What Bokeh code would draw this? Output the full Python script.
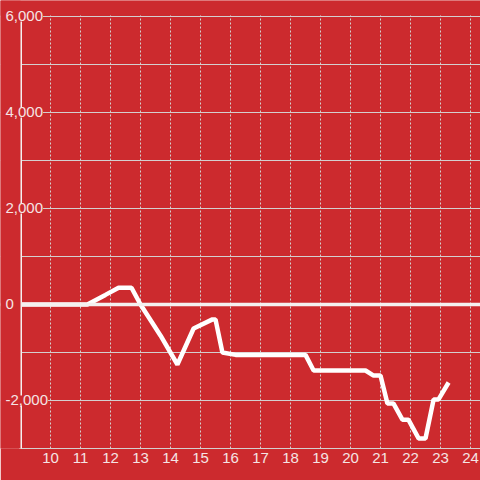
from bokeh.plotting import figure
from bokeh.models import (Range1d, FixedTicker, Span, LabelSet, ColumnDataSource,
                          BoxAnnotation)
from bokeh.core.properties import value
from bokeh.embed import file_html
from bokeh.resources import INLINE

# ---- data ----
x_vals = [9.0, 11.23, 11.83, 12.27, 12.7, 13.0, 13.67, 14.23, 14.77, 15.4, 15.5,
          15.73, 16.17, 18.5, 18.77, 20.5, 20.77, 21.0, 21.23, 21.43, 21.73,
          21.93, 22.27, 22.5, 22.77, 22.93, 23.27]
y_vals = [0, 0, 200, 350, 350, 0, -650, -1250, -500, -310, -310,
          -1000, -1050, -1050, -1375, -1375, -1480, -1480, -2060, -2060, -2400,
          -2400, -2790, -2790, -1980, -1980, -1625]
x_ticks = [10, 11, 12, 13, 14, 15, 16, 17, 18, 19, 20, 21, 22, 23, 24]
y_label_ticks = [-2000, 0, 2000, 4000, 6000]
y_label_texts = ["-2,000", "0", "2,000", "4,000", "6,000"]
y_grid_ticks = [-3000, -2000, -1000, 0, 1000, 2000, 3000, 4000, 5000, 6000]
x_axis_pos = 9.0
y_top = 6000

RED = "#CC2A2E"
TXT = "#F5E4E4"
GRID = "#D4CFCF"
AXIS = "#F4F0F0"
FONT = "Liberation Sans"

p = figure(width=480, height=480, output_backend="svg", toolbar_location=None,
           x_range=Range1d(8.3333, 24.3333), y_range=Range1d(-3000, 6333.3),
           min_border_left=0, min_border_right=0, min_border_top=0,
           min_border_bottom=32)
p.background_fill_color = RED
p.border_fill_color = RED
p.outline_line_color = None

# grids
p.xgrid.ticker = FixedTicker(ticks=x_ticks)
p.xgrid.grid_line_color = GRID
p.xgrid.grid_line_width = 1
p.xgrid.grid_line_dash = "2 2"
p.ygrid.ticker = FixedTicker(ticks=y_grid_ticks)
p.ygrid.grid_line_color = GRID
p.ygrid.grid_line_width = 1

# x axis
xa = p.xaxis[0]
xa.ticker = FixedTicker(ticks=x_ticks)
xa.bounds = (x_axis_pos, p.x_range.end)
xa.axis_line_color = GRID
xa.axis_line_width = 1
xa.major_tick_line_color = None
xa.minor_tick_line_color = None
xa.major_tick_out = 0
xa.major_label_standoff = 4
xa.major_label_text_color = TXT
xa.major_label_text_font = FONT
xa.major_label_text_font_size = "15px"

p.yaxis.visible = False

# zero line
p.add_layout(Span(location=0, dimension="width", line_color=AXIS, line_width=3.5))

# masks: left of the y axis and above the top gridline
p.add_layout(BoxAnnotation(right=x_axis_pos, fill_color=RED, fill_alpha=1,
                           line_color=None))
p.add_layout(BoxAnnotation(bottom=y_top + 20, fill_color=RED, fill_alpha=1,
                           line_color=None))

# data line
p.line(x_vals, y_vals, line_color="white", line_width=4.5)

# y axis line
p.segment(x0=[x_axis_pos], y0=[min(y_grid_ticks)], x1=[x_axis_pos], y1=[y_top],
          line_color=AXIS, line_width=3, level="annotation")

# y labels
src = ColumnDataSource(dict(x=[x_axis_pos] * len(y_label_ticks),
                            y=y_label_ticks, t=y_label_texts))
p.add_layout(LabelSet(x="x", y="y", text="t", source=src, x_offset=-15,
                      text_align="left", text_baseline="middle",
                      text_color=TXT, text_font=value(FONT),
                      text_font_size=value("15px"), background_fill_color=RED))

html = file_html(p, INLINE)
html = html.replace("<body>", '<body style="margin:0;background-color:%s;">' % RED, 1)
open("out.html", "w").write(html)
